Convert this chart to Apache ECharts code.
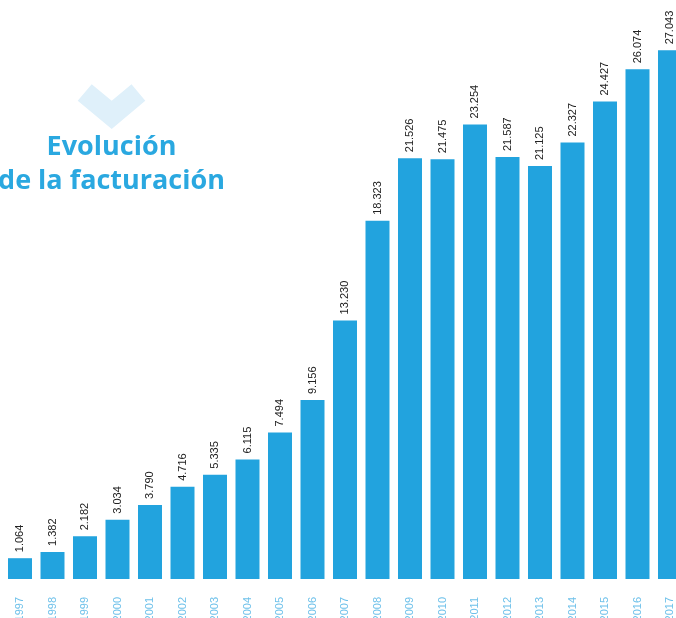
<!DOCTYPE html>
<html><head><meta charset="utf-8">
<script src="https://cdn.jsdelivr.net/npm/echarts@6/dist/echarts.min.js"></script>
<style>html,body{margin:0;padding:0;background:#fff}#c{width:676px;height:618px}</style>
</head><body><div id="c"></div>
<script>
const years = ['1997','1998','1999','2000','2001','2002','2003','2004','2005','2006','2007','2008','2009','2010','2011','2012','2013','2014','2015','2016','2017'];
const revenue = [1064,1382,2182,3034,3790,4716,5335,6115,7494,9156,13230,18323,21526,21475,23254,21587,21125,22327,24427,26074,27043];
const titleLines = ['Evolución','de la facturación'];

function fmt(v){return String(v).replace(/\B(?=(\d{3})+(?!\d))/g,'.');}

const chart = echarts.init(document.getElementById('c'));
chart.setOption({
  animation:false,
  grid:{left:3.75, width:682.5, top:0, height:579, containLabel:false, outerBoundsMode:'none'},
  xAxis:{type:'category', data:years,
    axisLine:{show:false}, axisTick:{show:false},
    axisLabel:{rotate:90, margin:18, fontSize:11, color:'#6ec1ea', fontFamily:'Liberation Sans', interval:0}},
  yAxis:{type:'value', min:0, max:29620, show:false, splitLine:{show:false}},
  series:[{type:'bar', data:revenue, barWidth:24,
    itemStyle:{color:'#22a3de'},
    label:{show:true, position:'top', rotate:90, align:'left', verticalAlign:'middle', distance:6,
      fontSize:11, color:'#222', fontFamily:'Liberation Sans',
      formatter:p=>fmt(p.value)}}],
  graphic:[
    {type:'polygon', shape:{points:[[77.7,100.7],[91.7,84.3],[111.7,100.7],[131.5,84.3],[145.3,100.7],[111.7,129]]},
      style:{fill:'#dff0fa'}},
    {type:'text', x:111.5, y:147, style:{text:titleLines[0], textAlign:'center', textVerticalAlign:'middle',
      font:'bold 27px "Open Sans"', fill:'#2aa8e0'}},
    {type:'text', x:111.5, y:181, style:{text:titleLines[1], textAlign:'center', textVerticalAlign:'middle',
      font:'bold 27px "Open Sans"', fill:'#2aa8e0'}}
  ]
});
</script></body></html>
